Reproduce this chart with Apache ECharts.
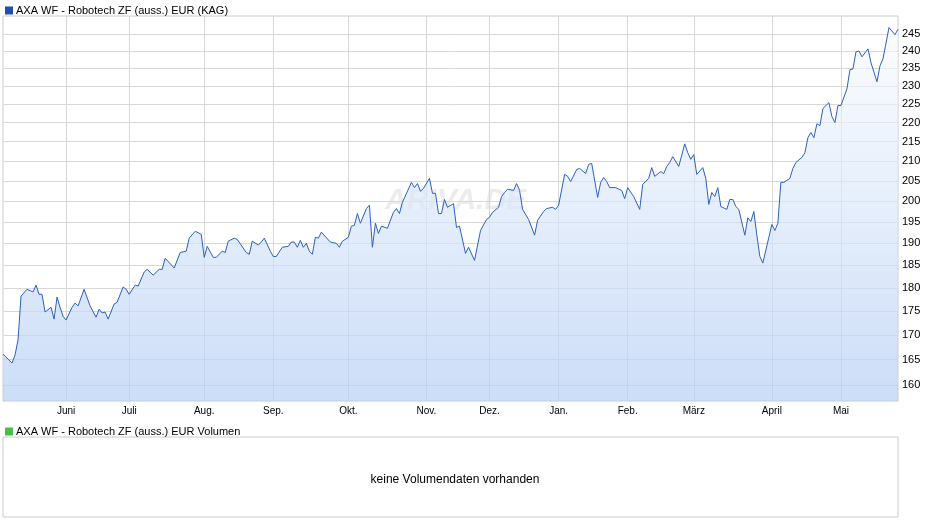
<!DOCTYPE html>
<html lang="de">
<head>
  <meta charset="UTF-8">
  <title>AXA WF - Robotech ZF</title>
  <script src="https://cdn.jsdelivr.net/npm/echarts@6/dist/echarts.min.js"></script>
</head>
<body style="margin:0">
  <div id="chart" style="width: 940px;height: 526px;"></div>
<script>
  // trading-day slots, month starts and their labels
  var slotCount = 299
  var monthIdx = [21, 42, 67, 90, 115, 141, 162, 185, 208, 230, 256, 279]
  var monthNames = ['Juni', 'Juli', 'Aug.', 'Sep.', 'Okt.', 'Nov.', 'Dez.', 'Jan.', 'Feb.', 'März', 'April', 'Mai']
  var yTicks = [160, 165, 170, 175, 180, 185, 190, 195, 200, 205, 210, 215, 220, 225, 230, 235, 240, 245]

  // price points (slot index, value)
  var priceIdx = [0, 3, 4, 5, 6, 8, 10, 11, 12, 13, 14, 16, 17, 18, 19, 20, 21, 23, 24, 25, 27, 29, 31, 32, 33, 34, 35, 37, 38, 40, 41, 42, 44, 45, 47, 48, 50, 52, 53, 54, 57, 59, 61, 62, 64, 66, 67, 68, 70, 71, 73, 74, 75, 77, 78, 81, 82, 83, 85, 86, 87, 89, 90, 91, 93, 95, 96, 97, 98, 99, 100, 101, 102, 103, 104, 105, 106, 109, 111, 112, 113, 115, 116, 117, 118, 119, 121, 122, 123, 124, 125, 126, 128, 130, 131, 132, 133, 136, 137, 138, 139, 140, 142, 143, 144, 145, 146, 147, 148, 150, 151, 152, 154, 155, 157, 159, 161, 162, 163, 165, 166, 167, 168, 170, 171, 172, 173, 175, 177, 178, 180, 181, 183, 184, 185, 187, 188, 189, 191, 192, 194, 195, 196, 198, 199, 200, 201, 202, 204, 206, 207, 208, 210, 212, 213, 215, 216, 217, 219, 220, 221, 222, 223, 225, 227, 228, 229, 230, 231, 233, 234, 235, 236, 237, 238, 239, 241, 242, 243, 244, 245, 247, 248, 249, 250, 251, 252, 253, 255, 256, 257, 258, 259, 260, 262, 263, 264, 266, 267, 268, 269, 270, 271, 272, 273, 275, 276, 277, 278, 279, 281, 282, 283, 284, 285, 286, 288, 289, 291, 292, 293, 295, 297, 298]
  var priceVal = [166.1, 164.3, 165.9, 169.0, 178.2, 179.7, 179.1, 180.6, 178.6, 178.6, 174.8, 175.8, 173.3, 178.0, 175.8, 173.9, 173.1, 175.8, 176.7, 176.1, 179.7, 176.1, 173.7, 175.4, 174.6, 174.8, 173.3, 176.5, 176.9, 180.2, 179.7, 178.6, 180.6, 180.4, 183.5, 184.1, 182.8, 184.1, 184.1, 186.6, 184.4, 187.9, 188.2, 191.2, 192.8, 192.1, 186.8, 189.3, 186.8, 186.8, 188.2, 187.9, 190.5, 191.2, 190.9, 187.9, 187.5, 190.5, 189.6, 190.3, 191.2, 188.2, 187.0, 187.0, 189.1, 189.3, 190.3, 190.3, 189.1, 190.7, 189.1, 190.0, 188.2, 187.5, 191.4, 191.2, 192.6, 190.3, 190.0, 189.1, 190.5, 191.4, 194.0, 194.2, 197.0, 194.7, 198.2, 199.0, 189.1, 194.7, 192.3, 194.0, 193.5, 197.3, 198.2, 197.0, 199.7, 204.6, 203.3, 204.3, 202.4, 203.1, 205.6, 201.9, 201.9, 197.0, 197.0, 200.4, 198.5, 199.4, 193.7, 194.0, 187.7, 189.1, 186.1, 193.0, 195.6, 196.1, 197.3, 198.5, 201.1, 202.1, 202.9, 202.6, 204.3, 202.6, 198.0, 195.6, 191.9, 195.4, 197.5, 198.2, 198.5, 198.0, 199.0, 206.6, 206.1, 204.8, 207.8, 208.1, 206.8, 209.1, 209.4, 200.9, 204.6, 205.8, 204.8, 203.3, 203.3, 202.6, 200.6, 203.3, 201.1, 198.0, 204.1, 205.6, 208.3, 206.1, 207.3, 206.8, 208.6, 209.6, 211.1, 208.6, 214.4, 212.1, 210.4, 211.6, 206.6, 208.3, 205.6, 199.2, 202.1, 201.1, 203.3, 198.7, 198.0, 200.4, 200.4, 198.7, 198.0, 191.9, 196.0, 195.1, 197.5, 191.9, 187.0, 185.5, 191.4, 194.4, 193.0, 194.7, 204.6, 204.6, 205.6, 208.1, 209.6, 210.9, 212.1, 216.0, 217.4, 216.0, 219.7, 219.2, 223.8, 225.4, 221.6, 220.0, 224.6, 224.6, 229.2, 234.6, 234.8, 239.7, 240.0, 238.3, 240.6, 236.6, 231.2, 235.7, 237.7, 246.9, 244.8, 246.4]

  var categories = []
  for (var i = 0; i < slotCount; i++) categories.push(String(i))
  var priceData = priceIdx.map(function (idx, i) { return [idx, priceVal[i]] })
  var monthLabel = function (index) { return monthIdx.indexOf(index) >= 0 }

  var charts = echarts.init(document.getElementById('chart'))
  var font = 'Liberation Sans, Arial, sans-serif'
  var option = {
    animation: false,
    textStyle: { fontFamily: font },
    legend: [{
      data: ['AXA WF - Robotech ZF (auss.) EUR (KAG)'],
      left: 0, top: 0,
      itemWidth: 8, itemHeight: 8, itemGap: 4,
      icon: 'rect',
      textStyle: { fontSize: 11, color: '#000', padding: [0, 0, 0, -2] }
    }, {
      data: ['AXA WF - Robotech ZF (auss.) EUR Volumen'],
      left: 0, top: 421,
      itemWidth: 8, itemHeight: 8, itemGap: 4,
      icon: 'rect',
      textStyle: { fontSize: 11, color: '#000', padding: [0, 0, 0, -2] }
    }],
    title: {
      text: 'keine Volumendaten vorhanden',
      left: 450, top: 469, textAlign: 'center',
      textStyle: { fontSize: 12, fontWeight: 'normal', color: '#000', fontFamily: font }
    },
    graphic: [{
      type: 'text', left: 385, top: 186, z: 0,
      style: { text: 'ARIVA.DE', fontSize: 30, fontStyle: 'italic', fontWeight: 'bold', fill: 'rgba(200,200,200,0.35)', fontFamily: font }
    }],
    grid: [
      { left: 3, right: 42, top: 16, bottom: 125, show: true, borderColor: '#cccccc', borderWidth: 1 },
      { left: 3, right: 42, top: 437, bottom: 9, show: true, borderColor: '#cccccc', borderWidth: 1 }
    ],
    xAxis: [{
      type: 'category',
      gridIndex: 0,
      data: categories,
      boundaryGap: false,
      axisLine: { show: false },
      axisTick: { show: false },
      axisLabel: {
        interval: monthLabel,
        formatter: function (v, index) { return monthNames[monthIdx.indexOf(Number(v))] || '' },
        fontSize: 10, color: '#000', margin: 5
      },
      splitLine: { show: true, interval: monthLabel, lineStyle: { color: '#d8d8d8' } }
    }, {
      type: 'category', gridIndex: 1, data: [], show: false
    }],
    yAxis: [{
      type: 'log',
      gridIndex: 0,
      position: 'right',
      min: 156.9,
      max: 250.4,
      axisLine: { show: false },
      axisTick: { show: false, customValues: yTicks },
      axisLabel: { customValues: yTicks, fontSize: 11, color: '#000', margin: 4 },
      splitLine: { show: true, lineStyle: { color: '#d8d8d8' } }
    }, {
      type: 'value', gridIndex: 1, show: false
    }],
    series: [{
      name: 'AXA WF - Robotech ZF (auss.) EUR (KAG)',
      type: 'line',
      data: priceData,
      showSymbol: false,
      connectNulls: true,
      itemStyle: { color: '#1f4fb0', borderColor: '#0d2f70' },
      lineStyle: { color: '#2b5fc6', width: 1 },
      areaStyle: {
        origin: 'start',
        color: new echarts.graphic.LinearGradient(0, 0, 0, 1, [
          { offset: 0, color: 'rgba(248,251,255,0.9)' },
          { offset: 1, color: 'rgba(182,207,245,1)' }
        ])
      }
    }, {
      name: 'AXA WF - Robotech ZF (auss.) EUR Volumen',
      type: 'bar',
      xAxisIndex: 1, yAxisIndex: 1,
      data: [],
      itemStyle: { color: '#4cbb4c', borderColor: '#207a20' }
    }]
  }
  charts.setOption(option)
</script>
</body>
</html>
